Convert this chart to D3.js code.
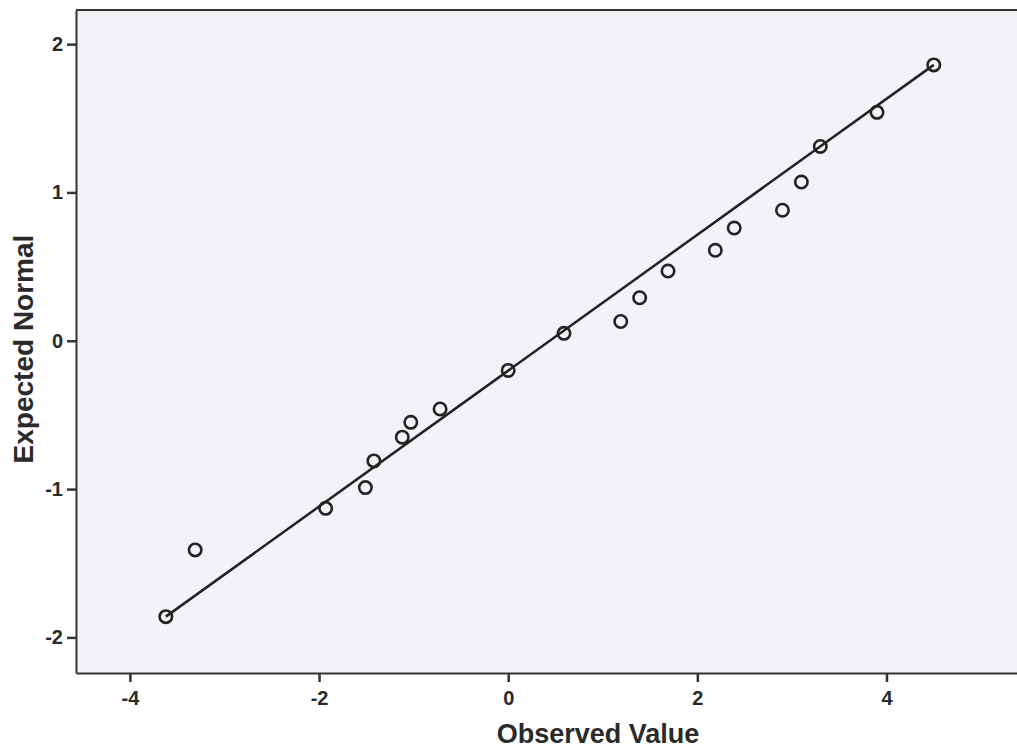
<!DOCTYPE html>
<html>
<head>
<meta charset="utf-8">
<script src="https://cdn.jsdelivr.net/npm/d3@7"></script>
<style>
  body { margin: 0; background: white; }
  svg { display: block; font-family: 'Liberation Sans', Arial, sans-serif; }
</style>
</head>
<body>
<svg id="chart"></svg>
<script>
// observed values and expected normal quantiles
let observed = [-3.62, -3.31, -1.93, -1.51, -1.42, -1.12, -1.03, -0.72, 0.0, 0.59,
  1.19, 1.39, 1.69, 2.19, 2.39, 2.90, 3.10, 3.30, 3.90, 4.50];
let expected = [-1.86, -1.41, -1.13, -0.99, -0.81, -0.65, -0.55, -0.46, -0.20, 0.05,
  0.13, 0.29, 0.47, 0.61, 0.76, 0.88, 1.07, 1.31, 1.54, 1.86];

// reference line ends
let lineX = [-3.62, 4.50];
let lineY = [-1.86, 1.86];

let xTicks = [-4, -2, 0, 2, 4];
let yTicks = [-2, -1, 0, 1, 2];

function createGraph() {
  let width = 1017;
  let height = 753;
  let margin = { top: 10, bottom: 80, left: 76, right: 0 };

  let svg = d3.select('#chart');
  svg.selectAll('*').remove();
  svg.attr('width', width).attr('height', height);

  let xScale = d3.scaleLinear()
    .domain([-4.57, 5.38])
    .range([margin.left, width - margin.right]);

  let yScale = d3.scaleLinear()
    .domain([-2.24, 2.23])
    .range([height - margin.bottom, margin.top]);

  // plot background
  svg.append('rect')
    .attr('x', margin.left)
    .attr('y', margin.top)
    .attr('width', width - margin.left - margin.right)
    .attr('height', height - margin.top - margin.bottom)
    .attr('fill', '#f3f3f7');

  // top border
  svg.append('line')
    .attr('x1', margin.left).attr('x2', width)
    .attr('y1', margin.top).attr('y2', margin.top)
    .attr('stroke', '#333').attr('stroke-width', 2);

  // axes
  let fmt = d => String(d);
  let xAxis = svg.append('g')
    .attr('transform', `translate(0, ${height - margin.bottom})`)
    .call(d3.axisBottom(xScale).tickValues(xTicks).tickFormat(fmt).tickSize(9).tickPadding(9).tickSizeOuter(0));

  let yAxis = svg.append('g')
    .attr('transform', `translate(${margin.left}, 0)`)
    .call(d3.axisLeft(yScale).tickValues(yTicks).tickFormat(fmt).tickSize(9).tickPadding(4).tickSizeOuter(0));

  [xAxis, yAxis].forEach(g => {
    g.attr('font-size', 20).attr('font-weight', 'bold');
    g.select('.domain').attr('stroke', '#333').attr('stroke-width', 2);
    g.selectAll('.tick line').attr('stroke', '#333').attr('stroke-width', 2.5);
    g.selectAll('.tick text')
      .style('font-size', '20px')
      .style('font-weight', 'bold')
      .style('fill', '#2a2a2a')
      .style('font-family', "'Liberation Sans', Arial, sans-serif");
  });

  // labels
  svg.append('text')
    .attr('x', 598)
    .attr('y', 743)
    .text('Observed Value')
    .style('text-anchor', 'middle')
    .style('font-size', '27px')
    .style('font-weight', 'bold')
    .style('fill', '#2a2a2a');

  svg.append('text')
    .attr('transform', 'translate(33, 349) rotate(-90)')
    .text('Expected Normal')
    .style('text-anchor', 'middle')
    .style('font-size', '28px')
    .style('font-weight', 'bold')
    .style('fill', '#2a2a2a');

  // reference line
  svg.append('line')
    .attr('x1', xScale(lineX[0])).attr('y1', yScale(lineY[0]))
    .attr('x2', xScale(lineX[1])).attr('y2', yScale(lineY[1]))
    .attr('stroke', '#222')
    .attr('stroke-width', 2.5);

  // points
  svg.selectAll('circle.pt')
    .data(observed)
    .enter()
    .append('circle')
    .attr('class', 'pt')
    .attr('cx', d => xScale(d))
    .attr('cy', (d, i) => yScale(expected[i]))
    .attr('r', 6.2)
    .attr('fill', 'none')
    .attr('stroke', '#222')
    .attr('stroke-width', 2.6);
}

createGraph();
</script>
</body>
</html>
